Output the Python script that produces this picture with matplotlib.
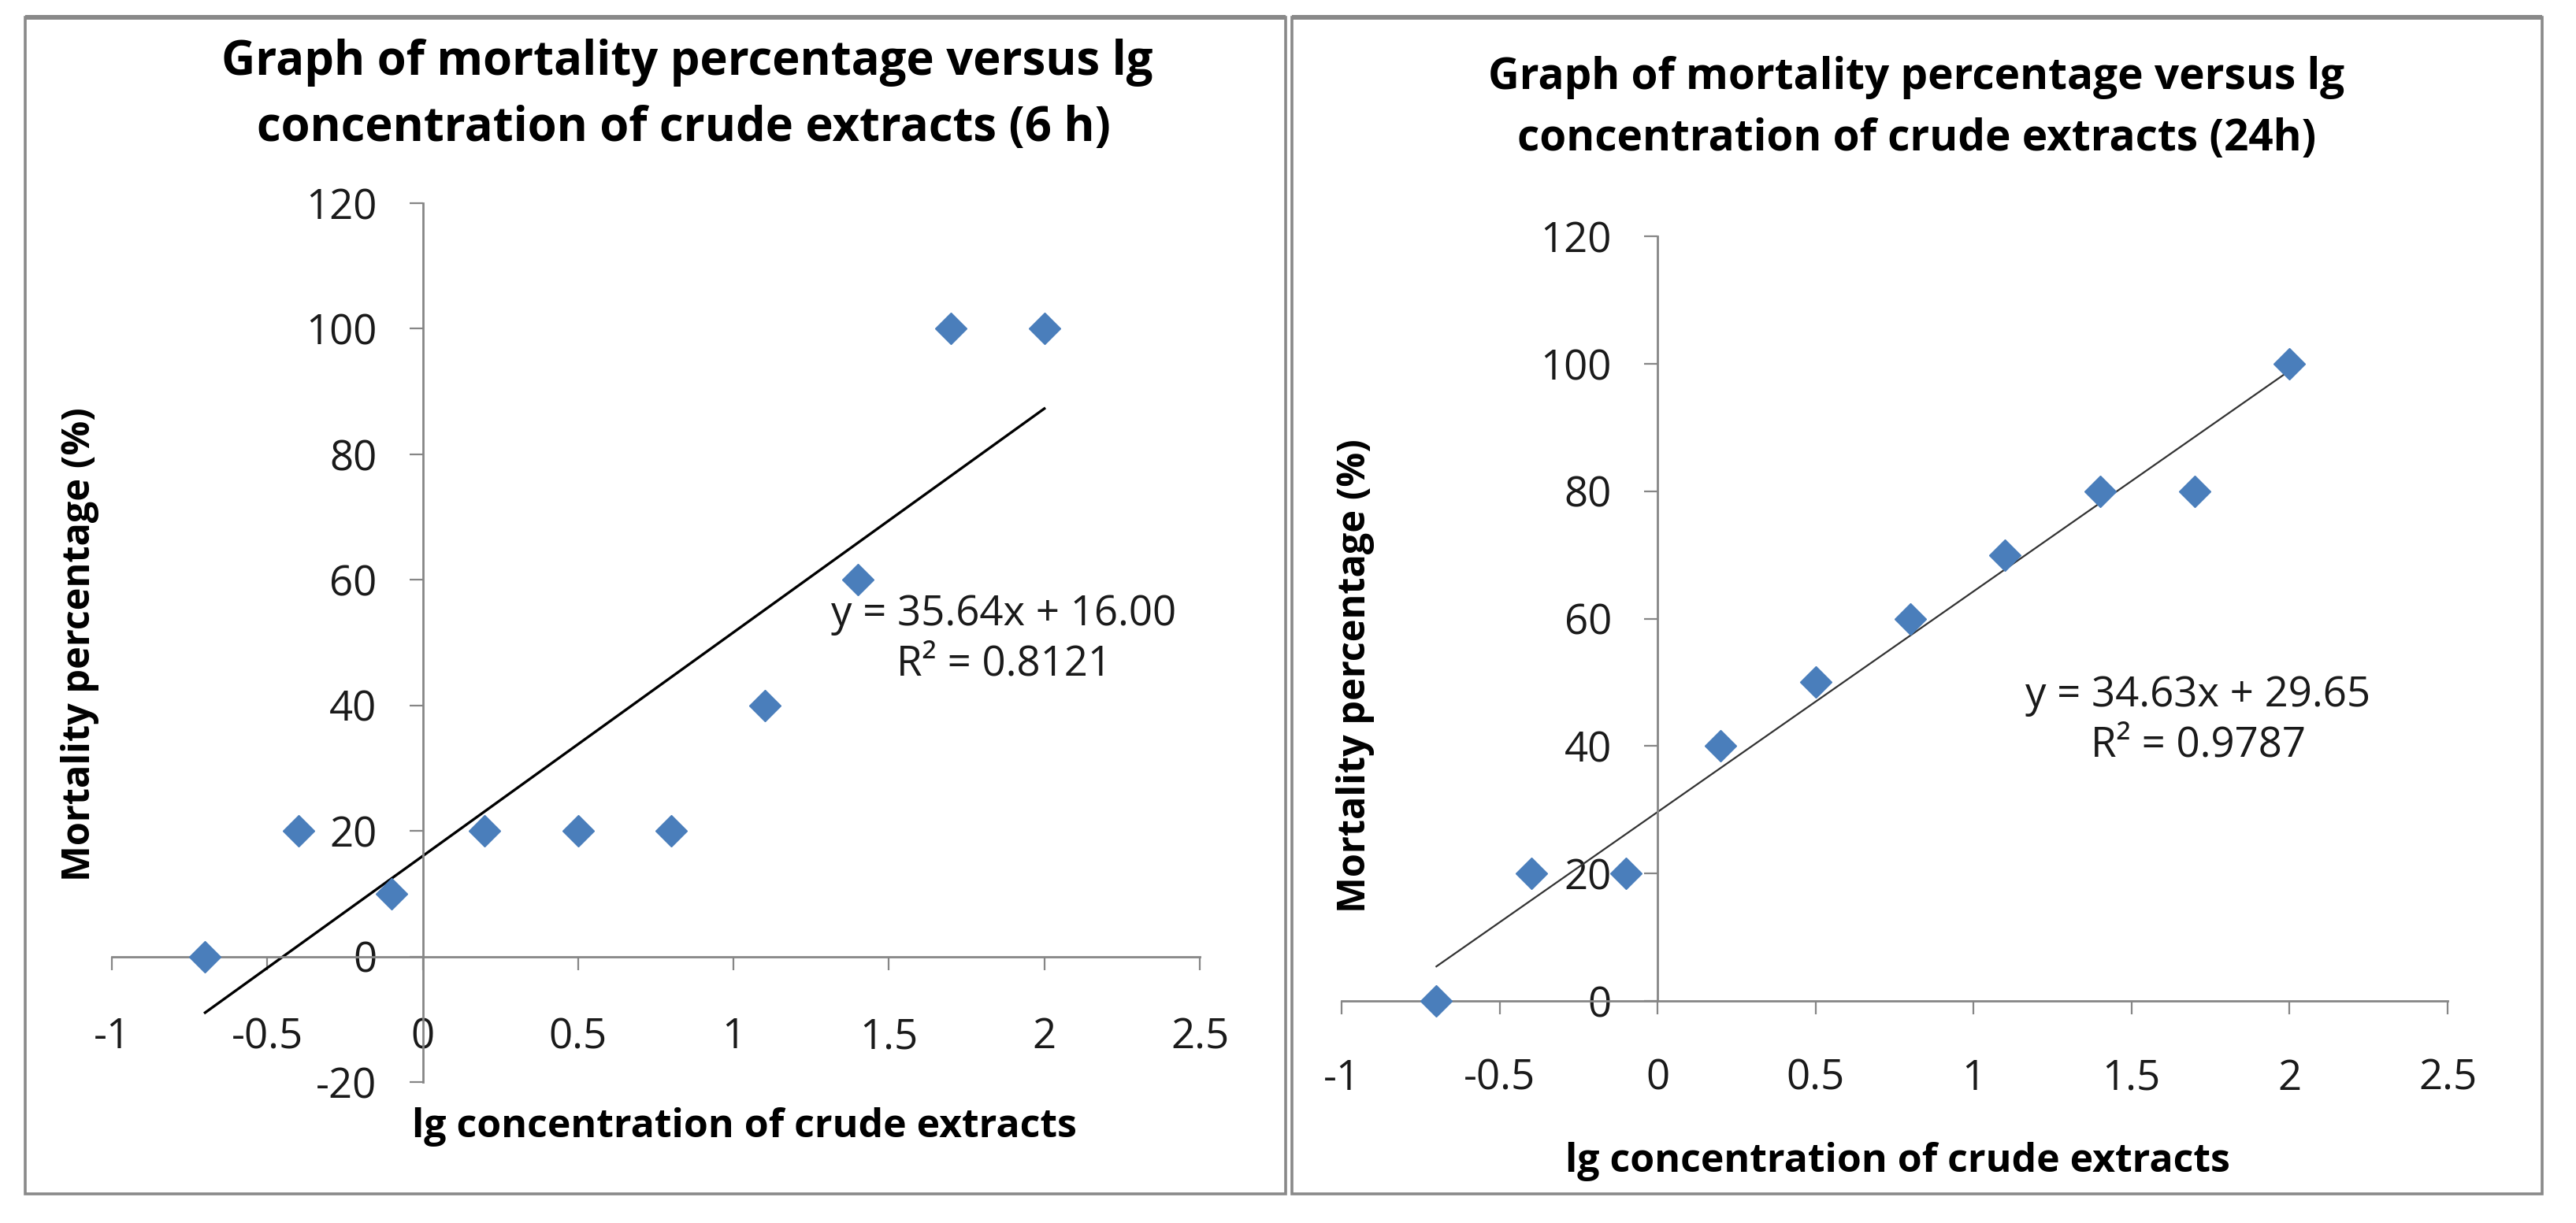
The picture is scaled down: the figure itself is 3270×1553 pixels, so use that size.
import numpy as np
import matplotlib
matplotlib.use('Agg')
from matplotlib import pyplot as plt
from matplotlib.patches import Rectangle
from matplotlib.lines import Line2D

plt.rcParams['font.family'] = ['Open Sans', 'DejaVu Sans']

# lg of the extract concentration, same for both exposure times
lg_conc = [-0.7, -0.4, -0.1, 0.2, 0.5, 0.8, 1.1, 1.4, 1.7, 2.0]
mortality_6h = [0, 20, 10, 20, 20, 20, 40, 60, 100, 100]
mortality_24h = [0, 20, 20, 40, 50, 60, 70, 80, 80, 100]

# trendline coefficients as printed on the charts
slope_6h, intercept_6h, r2_6h = 35.64, 16.00, 0.8121
slope_24h, intercept_24h, r2_24h = 34.63, 29.65, 0.9787

x_ticks = [-1, -0.5, 0, 0.5, 1, 1.5, 2, 2.5]
x_tick_labels = ['-1', '-0.5', '0', '0.5', '1', '1.5', '2', '2.5']
y_ticks_6h = [-20, 0, 20, 40, 60, 80, 100, 120]
y_ticks_24h = [0, 20, 40, 60, 80, 100, 120]

title_6h = ['Graph of mortality percentage versus lg', 'concentration of crude extracts (6 h)']
title_24h = ['Graph of mortality percentage versus lg', 'concentration of crude extracts (24h)']
x_label = 'lg concentration of crude extracts'
y_label = 'Mortality percentage (%)'

W, H = 3270, 1553
fig = plt.figure(figsize=(W / 100, H / 100), dpi=100)


def fx(x):
    return x / W


def fy(y):
    return 1 - y / H


# panel frames (top edge is drawn heavier, as in the source)
for x0, x1 in [(32, 1632), (1640, 3227)]:
    fig.add_artist(Rectangle((fx(x0), fy(1516)), fx(x1) - fx(x0), fy(22) - fy(1516),
                             transform=fig.transFigure, fill=False,
                             edgecolor='#898989', linewidth=2.6))
    fig.add_artist(Line2D([fx(x0), fx(x1)], [fy(22), fy(22)], transform=fig.transFigure,
                          color='#898989', linewidth=4.3, solid_capstyle='butt'))


def setup(ax, yticks, ylim, xpad):
    ax.set_xlim(-1, 2.5)
    ax.set_ylim(ylim)
    ax.patch.set_visible(False)
    for s in ['top', 'right']:
        ax.spines[s].set_visible(False)
    for s in ['left', 'bottom']:
        ax.spines[s].set_position(('data', 0))
        ax.spines[s].set_color('#868686')
        ax.spines[s].set_linewidth(2)
    ax.set_xticks(x_ticks, x_tick_labels)
    ax.set_yticks(yticks, [str(v) for v in yticks])
    ax.tick_params(direction='out', length=12, width=1.6, color='#868686',
                   labelsize=38, labelcolor='#1a1a1a')
    ax.tick_params(axis='x', pad=xpad)
    ax.tick_params(axis='y', pad=30)


def trend(ax, slope, intercept, r2, text_x, text_y, color, lw):
    xs = np.array([min(lg_conc), max(lg_conc)])
    ax.plot(xs, slope * xs + intercept, color=color, linewidth=lw, zorder=2)
    ax.text(text_x, text_y, f'y = {slope:.2f}x + {intercept:.2f}\nR² = {r2:.4f}',
            ha='center', va='center', multialignment='center', fontsize=38,
            color='#1a1a1a', linespacing=1.25)


# 6 h chart
ax1 = fig.add_axes([fx(142), fy(1374), fx(1523) - fx(142), fy(258) - fy(1374)])
setup(ax1, y_ticks_6h, (-20, 120), 43)
trend(ax1, slope_6h, intercept_6h, r2_6h, 1.87, 50.5, 'black', 2.4)
ax1.plot(lg_conc, mortality_6h, linestyle='none', marker='D', markersize=20,
         color='#4a7ebb', markeredgecolor='#4a7ebb', clip_on=False, zorder=3)

# 24 h chart
ax2 = fig.add_axes([fx(1703), fy(1271), fx(3107) - fx(1703), fy(300) - fy(1271)])
setup(ax2, y_ticks_24h, (0, 120), 40)
trend(ax2, slope_24h, intercept_24h, r2_24h, 1.71, 44, '#333333', 1.6)
ax2.plot(lg_conc, mortality_24h, linestyle='none', marker='D', markersize=20,
         color='#4a7ebb', markeredgecolor='#4a7ebb', clip_on=False, zorder=3)

# titles
fig.text(fx(872), fy(79), title_6h[0], ha='center', va='center', fontsize=43, fontweight='bold')
fig.text(fx(868), fy(163), title_6h[1], ha='center', va='center', fontsize=43, fontweight='bold')
fig.text(fx(2433), fy(99), title_24h[0], ha='center', va='center', fontsize=39.5, fontweight='bold')
fig.text(fx(2433), fy(176), title_24h[1], ha='center', va='center', fontsize=39.5, fontweight='bold')

# axis labels
fig.text(fx(945), fy(1431), x_label, ha='center', va='center', fontsize=36, fontweight='bold')
fig.text(fx(2409), fy(1475), x_label, ha='center', va='center', fontsize=36, fontweight='bold')
fig.text(fx(102), fy(818), y_label, ha='center', va='center', rotation=90,
         fontsize=35, fontweight='bold')
fig.text(fx(1720), fy(858), y_label, ha='center', va='center', rotation=90,
         fontsize=35, fontweight='bold')

fig.savefig('out.png', dpi=100)
